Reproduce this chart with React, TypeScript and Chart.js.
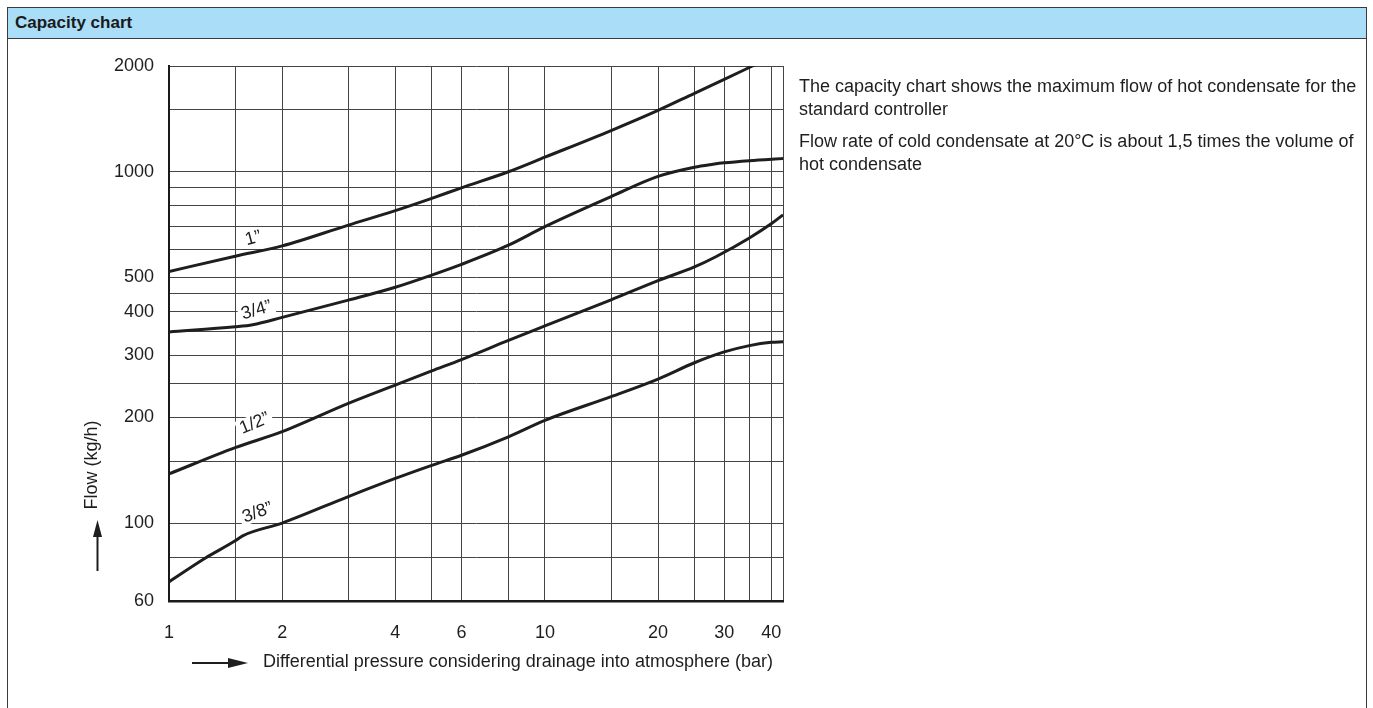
import React, { useEffect, useRef } from 'react';
import { Chart, registerables } from 'chart.js';

Chart.register(...registerables);

// Axis grid values and labelled values
const PRESSURE_GRID = [1, 1.5, 2, 3, 4, 5, 6, 8, 10, 15, 20, 25, 30, 35, 40, 43];
const PRESSURE_LABELS = [1, 2, 4, 6, 10, 20, 30, 40];
const FLOW_GRID = [60, 80, 100, 150, 200, 250, 300, 350, 400, 450, 500, 600, 700, 800, 900, 1000, 1500, 2000];
const FLOW_LABELS = [60, 100, 200, 300, 400, 500, 1000, 2000];

// Series: 1"
const SIZE_1_X = [1, 1.5, 2, 3, 4, 5, 6, 8, 10, 15, 20, 25, 30, 36.5];
const SIZE_1_Y = [520, 575, 615, 705, 775, 840, 900, 1000, 1100, 1310, 1495, 1672, 1831, 2025];
// Series: 3/4"
const SIZE_34_X = [1, 1.5, 1.67, 2, 3, 4, 5, 6, 8, 10, 15, 20, 25, 28, 30, 35, 43];
const SIZE_34_Y = [350, 362, 367, 385, 431, 469, 508, 545, 618, 698, 850, 970, 1030, 1050, 1060, 1075, 1090];
// Series: 1/2"
const SIZE_12_X = [1, 1.5, 2, 3, 4, 5, 6, 8, 10, 15, 20, 25, 28.5, 35, 40, 43];
const SIZE_12_Y = [138, 164, 182, 219, 247, 271, 292, 331, 364, 432, 490, 536, 573, 648, 711, 754];
// Series: 3/8"
const SIZE_38_X = [1, 1.25, 1.5, 1.57, 2, 3, 4, 5, 6, 8, 10, 15, 20, 25, 30, 35, 40, 43];
const SIZE_38_Y = [68, 79.5, 89, 92, 100, 119, 134, 146, 156, 176, 196, 229, 257, 286, 307, 320, 327, 328];

// Curve labels placed in data space
const CURVE_LABELS = ['1”', '3/4”', '1/2”', '3/8”'];
const LABEL_X = [1.675, 1.71, 1.69, 1.72];
const LABEL_Y = [646, 403, 192, 107];
const LABEL_ANGLE = [-15, -16, -22, -20];

const X_TITLE = 'Differential pressure considering drainage into atmosphere (bar)';
const Y_TITLE = 'Flow (kg/h)';

const FAMILY = '"Liberation Sans", Arial, Helvetica, sans-serif';
const INK = '#1e1e1e';

const toPoints = (xs: number[], ys: number[]) => xs.map((x, i) => ({ x, y: ys[i] }));

const annotations = {
  id: 'annotations',
  beforeDatasetsDraw(chart: any) {
    const { ctx, scales } = chart;
    ctx.save();
    ctx.font = `18px ${FAMILY}`;
    CURVE_LABELS.forEach((t, i) => {
      const px = scales.x.getPixelForValue(LABEL_X[i]);
      const py = scales.y.getPixelForValue(LABEL_Y[i]);
      const w = ctx.measureText(t).width;
      ctx.save();
      ctx.translate(px, py);
      ctx.rotate((LABEL_ANGLE[i] * Math.PI) / 180);
      ctx.fillStyle = '#ffffff';
      ctx.fillRect(-w / 2 - 3, -9, w + 6, 17);
      ctx.restore();
    });
    ctx.restore();
  },
  afterDatasetsDraw(chart: any) {
    const { ctx, scales } = chart;
    ctx.save();
    ctx.font = `18px ${FAMILY}`;
    ctx.fillStyle = INK;
    ctx.textAlign = 'center';
    ctx.textBaseline = 'middle';
    CURVE_LABELS.forEach((t, i) => {
      const px = scales.x.getPixelForValue(LABEL_X[i]);
      const py = scales.y.getPixelForValue(LABEL_Y[i]);
      ctx.save();
      ctx.translate(px, py);
      ctx.rotate((LABEL_ANGLE[i] * Math.PI) / 180);
      ctx.fillText(t, 0, 0);
      ctx.restore();
    });
    ctx.restore();
  },
  afterDraw(chart: any) {
    const { ctx, chartArea } = chart;
    const L = chartArea.left;
    const B = chartArea.bottom;
    ctx.save();
    ctx.fillStyle = INK;
    ctx.strokeStyle = INK;
    ctx.font = `18px ${FAMILY}`;

    // Y title (rotated)
    ctx.save();
    ctx.translate(L - 77, 465);
    ctx.rotate(-Math.PI / 2);
    ctx.textAlign = 'center';
    ctx.textBaseline = 'middle';
    ctx.fillText(Y_TITLE, 0, 0);
    ctx.restore();

    // Y arrow
    const ax = L - 71.5;
    ctx.lineWidth = 2;
    ctx.beginPath();
    ctx.moveTo(ax, 571);
    ctx.lineTo(ax, 535);
    ctx.stroke();
    ctx.beginPath();
    ctx.moveTo(ax, 520);
    ctx.lineTo(ax - 4.5, 537);
    ctx.lineTo(ax + 4.5, 537);
    ctx.closePath();
    ctx.fill();

    // X arrow
    const ay = B + 62;
    ctx.beginPath();
    ctx.moveTo(L + 23, ay);
    ctx.lineTo(L + 62, ay);
    ctx.stroke();
    ctx.beginPath();
    ctx.moveTo(L + 79, ay);
    ctx.lineTo(L + 59, ay - 5);
    ctx.lineTo(L + 59, ay + 5);
    ctx.closePath();
    ctx.fill();

    // X title
    ctx.textAlign = 'left';
    ctx.textBaseline = 'middle';
    ctx.fillText(X_TITLE, L + 94, B + 61);
    ctx.restore();
  },
};

export default function App() {
  const ref = useRef<HTMLCanvasElement | null>(null);

  useEffect(() => {
    if (!ref.current) return;
    const lineStyle = {
      borderColor: INK,
      borderWidth: 3,
      pointRadius: 0,
      fill: false,
      cubicInterpolationMode: 'monotone' as const,
    };
    const chart = new Chart(ref.current, {
      type: 'line',
      data: {
        datasets: [
          { label: '1”', data: toPoints(SIZE_1_X, SIZE_1_Y), ...lineStyle },
          { label: '3/4”', data: toPoints(SIZE_34_X, SIZE_34_Y), ...lineStyle },
          { label: '1/2”', data: toPoints(SIZE_12_X, SIZE_12_Y), ...lineStyle },
          { label: '3/8”', data: toPoints(SIZE_38_X, SIZE_38_Y), ...lineStyle },
        ],
      },
      options: {
        animation: false,
        responsive: false,
        devicePixelRatio: 1,
        layout: { padding: { left: 60, top: 66, right: 590, bottom: 0 } },
        plugins: {
          legend: { display: false },
          tooltip: { enabled: false },
          title: { display: false },
        },
        scales: {
          x: {
            type: 'logarithmic',
            min: 1,
            max: 43,
            afterBuildTicks: (s: any) => {
              s.ticks = PRESSURE_GRID.map((v) => ({ value: v }));
            },
            afterFit: (s: any) => {
              s.height = 107;
            },
            ticks: {
              autoSkip: false,
              maxRotation: 0,
              minRotation: 0,
              padding: 21,
              color: INK,
              font: { family: FAMILY, size: 18 },
              callback: (v: any) => (PRESSURE_LABELS.includes(Number(v)) ? String(v) : ''),
            },
            grid: { color: '#444444', lineWidth: 1, drawTicks: false },
            border: { color: '#1a1a1a', width: 2.5 },
          },
          y: {
            type: 'logarithmic',
            min: 60,
            max: 2000,
            afterBuildTicks: (s: any) => {
              s.ticks = FLOW_GRID.map((v) => ({ value: v }));
            },
            afterFit: (s: any) => {
              s.width = 109;
            },
            ticks: {
              autoSkip: false,
              padding: 15,
              color: INK,
              font: { family: FAMILY, size: 18 },
              callback: (v: any) => (FLOW_LABELS.includes(Number(v)) ? String(v) : ''),
            },
            grid: { color: '#444444', lineWidth: 1, drawTicks: false },
            border: { color: '#1a1a1a', width: 2 },
          },
        },
      },
      plugins: [annotations],
    });
    return () => chart.destroy();
  }, []);

  return (
    <div
      style={{
        position: 'absolute',
        left: 0,
        top: 0,
        width: 1373,
        height: 708,
        overflow: 'hidden',
        background: '#ffffff',
        fontFamily: FAMILY,
      }}
    >
      <div
        style={{
          position: 'absolute',
          left: 7,
          top: 7,
          width: 1358,
          height: 740,
          border: '1px solid #3a3a3a',
          background: '#ffffff',
        }}
      >
        <div
          style={{
            height: 30,
            borderBottom: '1px solid #3a3a3a',
            background: '#a9ddf8',
            fontWeight: 'bold',
            fontSize: 17,
            lineHeight: '30px',
            paddingLeft: 7,
            color: '#1a1a1a',
          }}
        >
          Capacity chart
        </div>
      </div>
      <canvas
        ref={ref}
        width={1373}
        height={708}
        style={{ position: 'absolute', left: 0, top: 0, width: 1373, height: 708 }}
      />
      <div
        style={{
          position: 'absolute',
          left: 799,
          top: 75,
          fontSize: 18,
          lineHeight: '23px',
          color: INK,
          whiteSpace: 'nowrap',
        }}
      >
        <div style={{ marginBottom: 9 }}>
          The capacity chart shows the maximum flow of hot condensate for the
          <br />
          standard controller
        </div>
        <div>
          Flow rate of cold condensate at 20°C is about 1,5 times the volume of
          <br />
          hot condensate
        </div>
      </div>
    </div>
  );
}
